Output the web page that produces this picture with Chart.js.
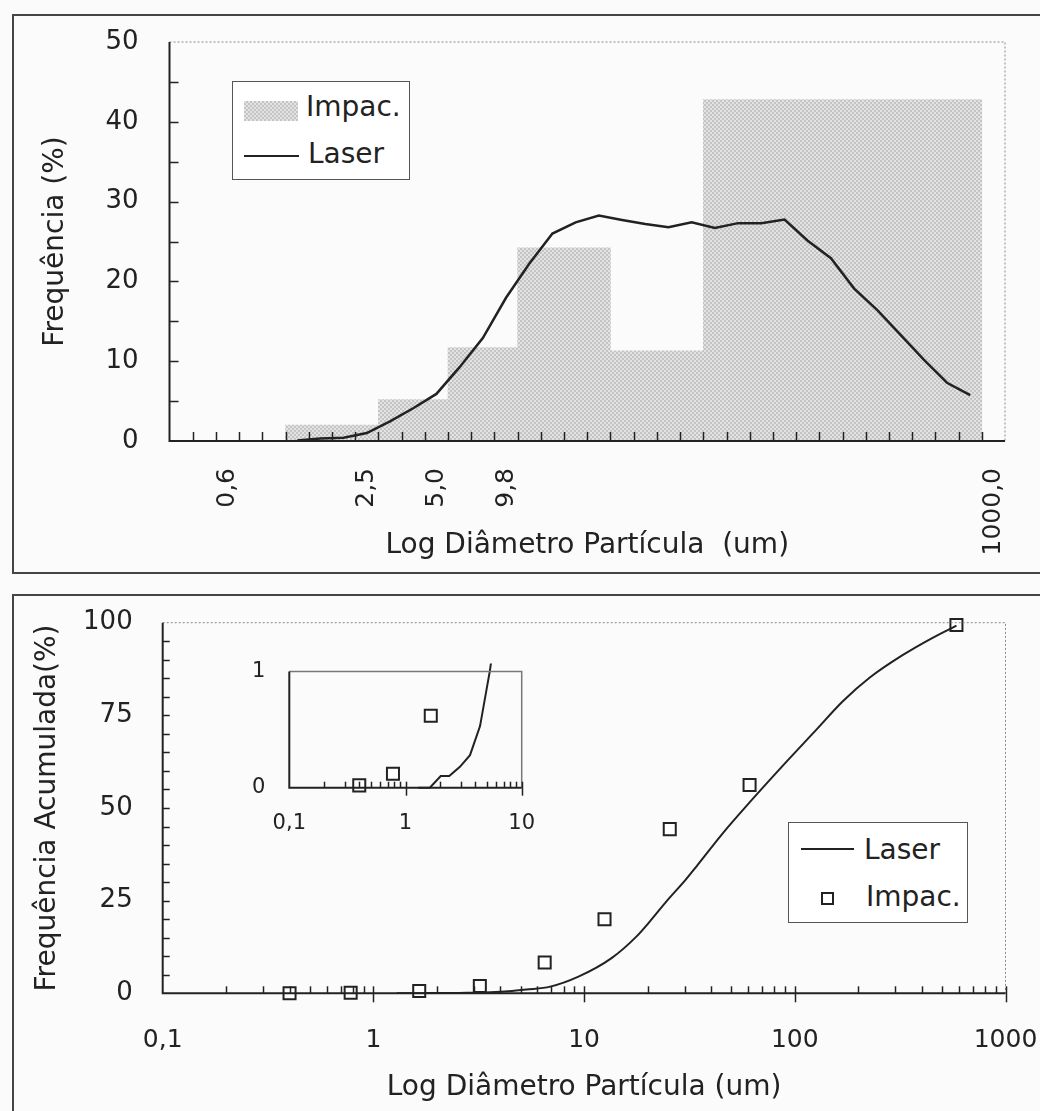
<!DOCTYPE html>
<html lang="pt">
<head>
<meta charset="utf-8">
<title>Distribuição de tamanho de partículas</title>
<script src="https://cdn.jsdelivr.net/npm/chart.js@4.4.1/dist/chart.umd.min.js"></script>
<style>
  body { margin: 0; width: 1040px; height: 1111px; overflow: hidden; position: relative;
         background: #fbfbfb; font-family: "DejaVu Sans", sans-serif; color: #222; }
  canvas { position: absolute; }
  .moldura { position: absolute; border: 2px solid #454545; }
  .legenda { position: absolute; border: 1px solid #555; background: #fff; font-size: 28px; }
  .legenda span { position: absolute; line-height: 1; white-space: nowrap; }
  .amostra-barra { position: absolute; width: 54px; height: 20px;
         background: repeating-conic-gradient(#c4c4c4 0 25%, #e3e3e3 0 50%) 0 0 / 4px 4px; }
  .amostra-linha { position: absolute; height: 2px; background: #222; }
  .amostra-quadrado { position: absolute; width: 9px; height: 9px; border: 2px solid #222; background: #fff; }
</style>
</head>
<body>

<div class="moldura" style="left:12px; top:14px; width:1040px; height:556px;"></div>
<div class="moldura" style="left:12px; top:594px; width:1040px; height:600px;"></div>

<canvas id="graficoFrequencia" width="1040" height="580" style="left:0; top:0;"></canvas>
<canvas id="graficoAcumulado" width="1040" height="531" style="left:0; top:580px;"></canvas>
<canvas id="graficoDetalhe" width="345" height="200" style="left:200px; top:640px;"></canvas>

<!-- legenda do gráfico de frequência -->
<div class="legenda" style="left:232px; top:81px; width:176px; height:97px;">
  <div class="amostra-barra" style="left:11px; top:19px;"></div>
  <span style="left:73px; top:11px;">Impac.</span>
  <div class="amostra-linha" style="left:11px; top:73px; width:55px;"></div>
  <span style="left:75px; top:58px;">Laser</span>
</div>

<!-- legenda do gráfico acumulado -->
<div class="legenda" style="left:788px; top:822px; width:178px; height:99px;">
  <div class="amostra-linha" style="left:12px; top:25px; width:53px;"></div>
  <span style="left:75px; top:13px;">Laser</span>
  <div class="amostra-quadrado" style="left:32px; top:69px;"></div>
  <span style="left:77px; top:60px;">Impac.</span>
</div>

<script>
// ---- dados: frequência por classe de diâmetro (36 classes log, só algumas rotuladas)
const rotulosClasses = ['', '', '0,6', '', '', '', '', '', '2,5', '', '', '5,0', '', '', '9,8', '',
  '', '', '', '', '', '', '', '', '', '', '', '', '', '', '', '', '', '', '', '1000,0'];

const freqImpactador = [null, null, null, null, null,
  2.0, 2.0, 2.0, 2.0,
  5.2, 5.2, 5.2,
  11.7, 11.7, 11.7,
  24.2, 24.2, 24.2, 24.2,
  11.3, 11.3, 11.3, 11.3,
  42.8, 42.8, 42.8, 42.8, 42.8, 42.8, 42.8, 42.8, 42.8, 42.8, 42.8, 42.8,
  null];

const freqLaser = [null, null, null, null, null,
  0.05, 0.3, 0.4, 1.0, 2.45, 4.1, 5.9, 9.25, 12.9, 17.95, 22.2, 26.0, 27.4, 28.25,
  27.7, 27.2, 26.8, 27.4, 26.7, 27.3, 27.3, 27.75, 25.1, 22.9, 19.1, 16.4, 13.3,
  10.2, 7.3, 5.75,
  null];

// ---- dados: frequência acumulada
const diamImpac = [0.4, 0.78, 1.65, 3.2, 6.5, 12.5, 25.5, 61, 585];
const acumImpac = [0.02, 0.12, 0.62, 2.0, 8.3, 20.0, 44.3, 56.2, 99.4];

const diamLaser = [1.29, 1.62, 2.01, 2.38, 2.94, 3.59, 4.38, 5.33, 6.9, 9.4, 13.5, 17.7,
  20.8, 24.6, 30.3, 34.1, 45.7, 61, 88, 126, 169, 227, 326, 453, 585];
const acumLaser = [0, 0, 0.1, 0.1, 0.18, 0.28, 0.53, 1.01, 1.8, 4.5, 9.5, 15.3,
  19.8, 24.8, 30.6, 34.2, 43.3, 51.5, 61.5, 71.0, 78.8, 85.2, 91.3, 96.0, 99.2];

// ---- rótulos dos eixos log
const valoresLogPrincipal = [0.1, 1, 10, 100, 1000];
const rotulosLogPrincipal = ['0,1', '1', '10', '100', '1000'];
const valoresLogDetalhe = [0.1, 1, 10];
const rotulosLogDetalhe = ['0,1', '1', '10'];

Chart.defaults.font.family = '"DejaVu Sans", sans-serif';
Chart.defaults.color = '#222';
Chart.defaults.animation = false;

function paresXY(xs, ys) {
  return xs.map((x, i) => ({ x: x, y: ys[i] }));
}

function criarPadrao() {
  const c = document.createElement('canvas');
  c.width = 4; c.height = 4;
  const g = c.getContext('2d');
  g.fillStyle = '#e3e3e3';
  g.fillRect(0, 0, 4, 4);
  g.fillStyle = '#c4c4c4';
  g.fillRect(0, 0, 2, 2);
  g.fillRect(2, 2, 2, 2);
  return g.createPattern(c, 'repeat');
}

function linha(ctx, x1, y1, x2, y2) {
  ctx.beginPath();
  ctx.moveTo(x1, y1);
  ctx.lineTo(x2, y2);
  ctx.stroke();
}

// rótulos que passam da borda não devem encolher a área do gráfico
function semFolgaX(altura) {
  return (escala) => {
    escala.height = altura;
    escala.paddingLeft = 0;
    escala.paddingRight = 0;
  };
}

function semFolgaY(largura) {
  return (escala) => {
    escala.width = largura;
    escala.paddingTop = 0;
    escala.paddingBottom = 0;
  };
}

// desenha moldura, eixos e marcas internas (estilo Excel)
const pluginMarcas = {
  id: 'marcas',
  afterDatasetsDraw(chart, args, op) {
    const ctx = chart.ctx;
    const a = chart.chartArea;
    const ex = chart.scales.x;
    const ey = chart.scales.y;
    ctx.save();

    ctx.strokeStyle = op.corMoldura;
    ctx.lineWidth = op.larguraMoldura;
    ctx.setLineDash(op.tracoMoldura);
    ctx.beginPath();
    ctx.moveTo(a.left, a.top);
    ctx.lineTo(a.right, a.top);
    ctx.lineTo(a.right, a.bottom);
    ctx.stroke();
    ctx.setLineDash([]);

    ctx.strokeStyle = '#222';
    ctx.lineWidth = 2;
    ctx.beginPath();
    ctx.moveTo(a.left, a.top);
    ctx.lineTo(a.left, a.bottom);
    ctx.lineTo(a.right, a.bottom);
    ctx.stroke();

    ctx.lineWidth = 1.5;
    for (let v = op.passoY; v < op.maxY; v += op.passoY) {
      const y = Math.round(ey.getPixelForValue(v)) + 0.5;
      linha(ctx, a.left, y, a.left + op.tamanho, y);
    }

    if (op.tipoX === 'categorias') {
      const n = chart.data.labels.length;
      for (let i = 1; i < n; i++) {
        const x = Math.round((ex.getPixelForValue(i - 1) + ex.getPixelForValue(i)) / 2) + 0.5;
        linha(ctx, x, a.bottom, x, a.bottom - op.tamanho);
      }
    } else {
      const decadas = op.decadas;
      for (let d = 0; d < decadas.length - 1; d++) {
        for (let m = 2; m <= 9; m++) {
          const x = Math.round(ex.getPixelForValue(decadas[d] * m)) + 0.5;
          linha(ctx, x, a.bottom, x, a.bottom - op.tamanho);
        }
      }
      for (let d = 1; d < decadas.length; d++) {
        const x = Math.round(ex.getPixelForValue(decadas[d])) + 0.5;
        linha(ctx, x, a.bottom - op.tamanho, x, a.bottom + op.tamanhoBaixo);
      }
    }
    ctx.restore();
  }
};

// ---------------- gráfico 1: frequência
new Chart(document.getElementById('graficoFrequencia'), {
  type: 'bar',
  data: {
    labels: rotulosClasses,
    datasets: [{
      type: 'line',
      label: 'Laser',
      data: freqLaser,
      borderColor: '#222',
      borderWidth: 2.5,
      pointRadius: 0,
      tension: 0,
      order: 0
    }, {
      type: 'bar',
      label: 'Impac.',
      data: freqImpactador,
      backgroundColor: criarPadrao(),
      borderWidth: 0,
      barPercentage: 1.0,
      categoryPercentage: 1.0,
      order: 1
    }]
  },
  options: {
    responsive: false,
    layout: { padding: { top: 42, right: 35, left: 0, bottom: 0 } },
    plugins: {
      legend: { display: false },
      tooltip: { enabled: false },
      marcas: {
        corMoldura: '#8a8a8a', larguraMoldura: 1, tracoMoldura: [2, 2],
        passoY: 5, maxY: 50, tamanho: 9, tipoX: 'categorias'
      }
    },
    scales: {
      x: {
        grid: { display: false, drawTicks: false },
        border: { display: false },
        ticks: { autoSkip: false, minRotation: 90, maxRotation: 90, padding: 27,
                 font: { size: 25 } },
        title: { display: true, text: 'Log Diâmetro Partícula  (um)',
                 font: { size: 28 }, padding: { top: 0, bottom: 17 } },
        afterFit: semFolgaX(139)
      },
      y: {
        min: 0, max: 50,
        grid: { display: false, drawTicks: false },
        border: { display: false },
        ticks: { stepSize: 10, padding: 31, font: { size: 26 } },
        title: { display: true, text: 'Frequência (%)',
                 font: { size: 28 }, padding: { top: 39, bottom: 0 } },
        afterFit: semFolgaY(169.5)
      }
    }
  },
  plugins: [pluginMarcas]
});

// ---------------- gráfico 2: frequência acumulada
new Chart(document.getElementById('graficoAcumulado'), {
  type: 'scatter',
  data: {
    datasets: [{
      label: 'Laser',
      data: paresXY(diamLaser, acumLaser),
      showLine: true,
      borderColor: '#222',
      borderWidth: 2,
      pointRadius: 0,
      cubicInterpolationMode: 'monotone'
    }, {
      label: 'Impac.',
      data: paresXY(diamImpac, acumImpac),
      showLine: false,
      pointStyle: 'rect',
      pointRadius: 8.5,
      pointBackgroundColor: '#fff',
      pointBorderColor: '#222',
      pointBorderWidth: 2,
      clip: false
    }]
  },
  options: {
    responsive: false,
    layout: { padding: { top: 42.7, right: 34.5, left: 0, bottom: 0 } },
    plugins: {
      legend: { display: false },
      tooltip: { enabled: false },
      marcas: {
        corMoldura: '#8a8a8a', larguraMoldura: 1, tracoMoldura: [2, 2],
        passoY: 5, maxY: 100, tamanho: 7, tamanhoBaixo: 9,
        tipoX: 'log', decadas: valoresLogPrincipal
      }
    },
    scales: {
      x: {
        type: 'logarithmic',
        min: 0.1, max: 1000,
        grid: { display: false, drawTicks: false },
        border: { display: false },
        afterBuildTicks: (escala) => { escala.ticks = valoresLogPrincipal.map(v => ({ value: v })); },
        ticks: {
          padding: 32,
          font: { size: 25 },
          callback: (v) => rotulosLogPrincipal[valoresLogPrincipal.findIndex(t => Math.abs(t - v) < 1e-9)]
        },
        title: { display: true, text: 'Log Diâmetro Partícula (um)',
                 font: { size: 28 }, padding: { top: 0, bottom: 6 } },
        afterFit: semFolgaX(117.7)
      },
      y: {
        min: 0, max: 100,
        grid: { display: false, drawTicks: false },
        border: { display: false },
        ticks: { stepSize: 25, padding: 30, font: { size: 26 } },
        title: { display: true, text: 'Frequência Acumulada(%)',
                 font: { size: 28 }, padding: { top: 31, bottom: 0 } },
        afterFit: semFolgaY(162.7)
      }
    }
  },
  plugins: [pluginMarcas]
});

// ---------------- detalhe (inset) da frequência acumulada
new Chart(document.getElementById('graficoDetalhe'), {
  type: 'scatter',
  data: {
    datasets: [{
      label: 'Laser',
      data: paresXY(diamLaser, acumLaser),
      showLine: true,
      borderColor: '#222',
      borderWidth: 2,
      pointRadius: 0,
      tension: 0,
      clip: { left: 0, top: 8, right: 0, bottom: 2 }
    }, {
      label: 'Impac.',
      data: paresXY(diamImpac, acumImpac),
      showLine: false,
      pointStyle: 'rect',
      pointRadius: 8.5,
      pointBackgroundColor: '#fff',
      pointBorderColor: '#222',
      pointBorderWidth: 2,
      clip: { left: 8, top: 0, right: 8, bottom: 8 }
    }]
  },
  options: {
    responsive: false,
    layout: { padding: { top: 31.5, right: 23.3, left: 0, bottom: 0 } },
    plugins: {
      legend: { display: false },
      tooltip: { enabled: false },
      marcas: {
        corMoldura: '#777', larguraMoldura: 1.5, tracoMoldura: [],
        passoY: 1, maxY: 1, tamanho: 6, tamanhoBaixo: 8,
        tipoX: 'log', decadas: valoresLogDetalhe
      }
    },
    scales: {
      x: {
        type: 'logarithmic',
        min: 0.1, max: 10,
        grid: { display: false, drawTicks: false },
        border: { display: false },
        afterBuildTicks: (escala) => { escala.ticks = valoresLogDetalhe.map(v => ({ value: v })); },
        ticks: {
          padding: 23,
          font: { size: 21 },
          callback: (v) => rotulosLogDetalhe[valoresLogDetalhe.findIndex(t => Math.abs(t - v) < 1e-9)]
        },
        afterFit: semFolgaX(52.3)
      },
      y: {
        min: 0, max: 1,
        grid: { display: false, drawTicks: false },
        border: { display: false },
        ticks: { stepSize: 1, padding: 24, font: { size: 21 } },
        afterFit: semFolgaY(89.3)
      }
    }
  },
  plugins: [pluginMarcas]
});
</script>
</body>
</html>
